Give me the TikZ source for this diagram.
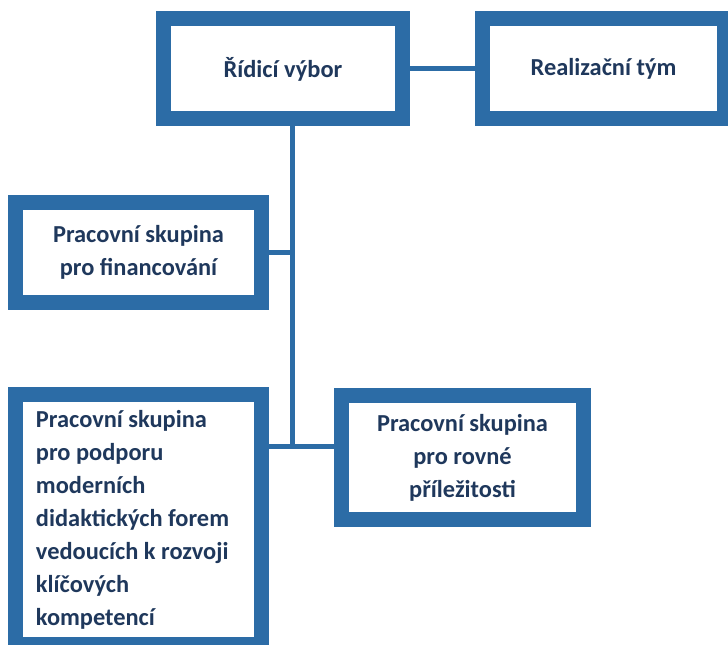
\documentclass[tikz,border=0pt]{standalone}
\usepackage{fontspec}
\setmainfont{Carlito}
\usepackage{tikz}
\usetikzlibrary{calc}

\definecolor{framblue}{RGB}{44,108,166}
\definecolor{textnavy}{RGB}{31,56,92}
\newcommand{\boxfont}{\fontsize{18.3}{24.75}\selectfont\bfseries}

\begin{document}
\begin{tikzpicture}[x=0.75pt,y=-0.75pt,
  orgbox/.style={draw=framblue,line width=11.25pt,fill=white,text=textnavy,
    inner sep=0pt,font=\boxfont,align=center},
  conn/.style={draw=framblue,line width=3.75pt}]
\useasboundingbox (0,0) rectangle (728,645);
\clip (0,0) rectangle (728,645);

\coordinate (junction) at (292,446);

\node[orgbox,minimum width=179.25pt,minimum height=75pt] (ridici) at (283,69) {Řídicí výbor};
\node[orgbox,minimum width=181.5pt,minimum height=75pt] (realizace) at (603.5,69) {Realizační tým};
\node[orgbox,minimum width=184.5pt,minimum height=75pt] (financ) at (138.5,252.5)
      {Pracovní skupina\\pro financování};
\node[orgbox,minimum width=184.5pt,minimum height=187.5pt,text width=153.75pt,align=flush left]
      (didakt) at (138.5,519.5)
      {Pracovní skupina\\pro podporu\\moderních\\didaktických forem\\vedoucích k rozvoji\\klíčových\\kompetencí};
\node[orgbox,minimum width=181.5pt,minimum height=93pt] (rovne) at (462.5,457.5)
      {Pracovní skupina\\pro rovné\\příležitosti};

\draw[conn] (ridici) -- (realizace);
\draw[conn] (ridici.south -| junction) -- (junction);
\draw[conn] (financ.east) -- (financ.east -| junction);
\draw[conn] (didakt.east |- junction) -- (rovne.west |- junction);
\end{tikzpicture}
\end{document}
